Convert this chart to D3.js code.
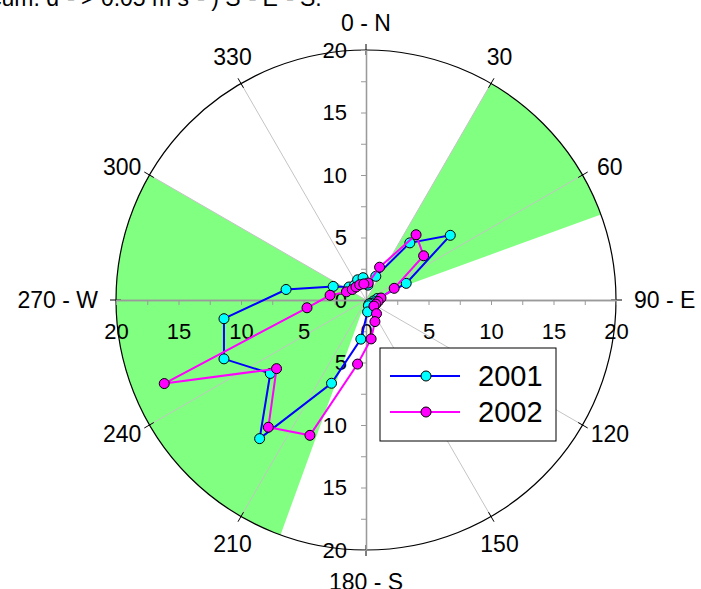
<!DOCTYPE html>
<html>
<head>
<meta charset="utf-8">
<script src="https://cdn.jsdelivr.net/npm/d3@7"></script>
<style>
  html, body { margin: 0; padding: 0; background: #fff; }
  svg { display: block; font-family: Arial, "Liberation Sans", sans-serif; }
</style>
</head>
<body>
<svg id="chart" width="701" height="589"></svg>
<script>
// Direction bins (degrees, clockwise from north) and the value in each bin
const directions = [7.5, 22.5, 37.5, 52.5, 67.5, 82.5, 97.5, 112.5, 127.5, 142.5, 157.5, 172.5,
                    187.5, 202.5, 217.5, 232.5, 247.5, 262.5, 277.5, 292.5, 307.5, 322.5, 337.5, 352.5];
const values2001 = [1.2, 2.05, 5.76, 8.5, 3.48, 0.9, 0.6, 0.6, 0.45, 0.4, 0.5, 0.96,
                    3.16, 7.21, 13.98, 9.65, 12.3, 11.46, 6.45, 2.84, 1.71, 1.5, 1.75, 1.8];
const values2002 = [1.37, 2.84, 6.58, 5.81, 2.44, 1.21, 0.97, 0.85, 0.8, 1.38, 1.87, 3.14,
                    5.17, 11.72, 12.83, 9.02, 17.47, 4.76, 2.9, 1.7, 1.38, 1.31, 1.32, 1.3];
const seriesNames = ["2001", "2002"];
const lineColors = ["#0000ff", "#ff00ff"];
const markerColors = ["#00ffff", "#ff00ff"];

// Highlighted direction sectors [from, to] in degrees
const sectors = [[30, 70], [200, 300]];
// Angular labels
const angleTicks = [0, 30, 60, 90, 120, 150, 180, 210, 240, 270, 300, 330];
const angleLabels = ["0 - N", "30", "60", "90 - E", "120", "150", "180 - S", "210", "240", "270 - W", "300", "330"];
// Radial axis ticks
const radialMajor = [-20, -15, -10, -5, 0, 5, 10, 15, 20];
const radialMinor = [-17.5, -12.5, -7.5, -2.5, 2.5, 7.5, 12.5, 17.5];
const rMax = 20;

const svg = d3.select("#chart");
const cx = 366, cy = 300, R = 250;
const g = svg.append("g").attr("transform", `translate(${cx},${cy})`);

const r = d3.scaleLinear().domain([0, rMax]).range([0, R]);
const toRad = d => d * Math.PI / 180;

// shaded sectors
const arc = d3.arc().innerRadius(0).outerRadius(r(rMax));
g.selectAll("path.sector").data(sectors).join("path")
  .attr("class", "sector")
  .attr("d", d => arc({ startAngle: toRad(d[0]), endAngle: toRad(d[1]) }))
  .attr("fill", "#80ff80");

// spokes every 30 degrees (the cardinal ones are the radial axes)
g.selectAll("line.spoke").data(angleTicks.filter(a => a % 90 !== 0)).join("line")
  .attr("class", "spoke")
  .attr("x1", 0).attr("y1", 0)
  .attr("x2", a => r(rMax) * Math.sin(toRad(a)))
  .attr("y2", a => -r(rMax) * Math.cos(toRad(a)))
  .attr("stroke", "#c4c4c4").attr("stroke-width", 1);

// outer circle
g.append("circle").attr("r", r(rMax)).attr("fill", "none").attr("stroke", "#000").attr("stroke-width", 1.2);

// tick marks on outer circle
g.selectAll("line.atick").data(angleTicks).join("line")
  .attr("class", "atick")
  .attr("x1", a => (r(rMax) - 5) * Math.sin(toRad(a)))
  .attr("y1", a => -(r(rMax) - 5) * Math.cos(toRad(a)))
  .attr("x2", a => (r(rMax) + 6) * Math.sin(toRad(a)))
  .attr("y2", a => -(r(rMax) + 6) * Math.cos(toRad(a)))
  .attr("stroke", "#000").attr("stroke-width", 1);

// radial axes through the centre
const ys = d3.scaleLinear().domain([-rMax, rMax]).range([R, -R]);
const xs = d3.scaleLinear().domain([-rMax, rMax]).range([-R, R]);
const fmt = d => Math.abs(d);

const yAxis = g.append("g")
  .call(d3.axisLeft(ys).tickValues(radialMajor).tickFormat(fmt).tickSize(5).tickSizeOuter(0).tickPadding(14));
const yMinor = g.append("g")
  .call(d3.axisLeft(ys).tickValues(radialMinor).tickFormat("").tickSize(5).tickSizeOuter(0));
const xAxis = g.append("g")
  .call(d3.axisBottom(xs).tickValues(radialMajor).tickFormat(fmt).tickSize(5).tickSizeOuter(0).tickPadding(18));
const xMinor = g.append("g")
  .call(d3.axisBottom(xs).tickValues(radialMinor).tickFormat("").tickSize(5).tickSizeOuter(0));

[yAxis, yMinor, xAxis, xMinor].forEach(a => {
  a.selectAll("path.domain").attr("stroke", "#9a9a9a").attr("stroke-width", 1.3);
  a.selectAll(".tick line").attr("stroke", "#9a9a9a").attr("stroke-width", 1);
  a.selectAll("text").attr("font-size", 22).attr("fill", "#000")
    .style("font-family", "Arial, 'Liberation Sans', sans-serif");
});

// angular labels: cardinal ones anchored at the rim, the rest centred on their direction
const labR = 268;
const labAngle = a => a + (a % 90 < 45 ? -1.3 : 1.3) * (a % 90 === 0 ? 0 : 1);
g.selectAll("text.alab").data(angleTicks).join("text")
  .attr("class", "alab")
  .attr("font-size", 23)
  .attr("x", a => {
    if (a % 90 === 0) return labR * Math.sin(toRad(a));
    return 278 * Math.sin(toRad(labAngle(a)));
  })
  .attr("y", a => {
    if (a === 0) return -labR;
    if (a === 180) return labR + 5;
    if (a === 90 || a === 270) return 0;
    return -278 * Math.cos(toRad(labAngle(a)));
  })
  .attr("text-anchor", a => a === 90 ? "start" : a === 270 ? "end" : "middle")
  .attr("dominant-baseline", a => a === 0 ? "auto" : a === 180 ? "hanging" : "central")
  .attr("dy", a => a === 0 ? "-0.05em" : a === 180 ? "0" : "0.02em")
  .text((a, i) => angleLabels[i]);

// data series
const allSeries = [values2001, values2002];
const line = d3.lineRadial().angle(d => toRad(d.dir)).radius(d => r(d.v));
allSeries.forEach((vals, si) => {
  const pts = directions.map((dir, i) => ({ dir, v: vals[i] }));
  const sg = g.append("g");
  sg.append("path").datum(pts)
    .attr("d", line)
    .attr("fill", "none")
    .attr("stroke", lineColors[si])
    .attr("stroke-width", 2);
  sg.selectAll("circle").data(pts).join("circle")
    .attr("cx", d => r(d.v) * Math.sin(toRad(d.dir)))
    .attr("cy", d => -r(d.v) * Math.cos(toRad(d.dir)))
    .attr("r", 5)
    .attr("fill", markerColors[si])
    .attr("stroke", "#000")
    .attr("stroke-width", 1);
});

// legend
const lg = svg.append("g").attr("transform", "translate(380,348)");
lg.append("rect").attr("width", 176).attr("height", 93)
  .attr("fill", "#fff").attr("stroke", "#000").attr("stroke-width", 1);
seriesNames.forEach((name, i) => {
  const y = 28 + i * 36;
  lg.append("line").attr("x1", 10).attr("x2", 80).attr("y1", y).attr("y2", y)
    .attr("stroke", lineColors[i]).attr("stroke-width", 2);
  lg.append("circle").attr("cx", 46).attr("cy", y).attr("r", 5)
    .attr("fill", markerColors[i]).attr("stroke", "#000").attr("stroke-width", 1);
  lg.append("text").attr("x", 98).attr("y", y).attr("dy", "0.36em")
    .attr("font-size", 29).text(name);
});

// title (runs off the top edge)
svg.append("text").attr("x", -10).attr("y", 6).attr("font-size", 23)
  .text("cum. d⁻¹ > 0.05 m s⁻¹ ) S⁻¹ E⁻¹ S.");
</script>
</body>
</html>
